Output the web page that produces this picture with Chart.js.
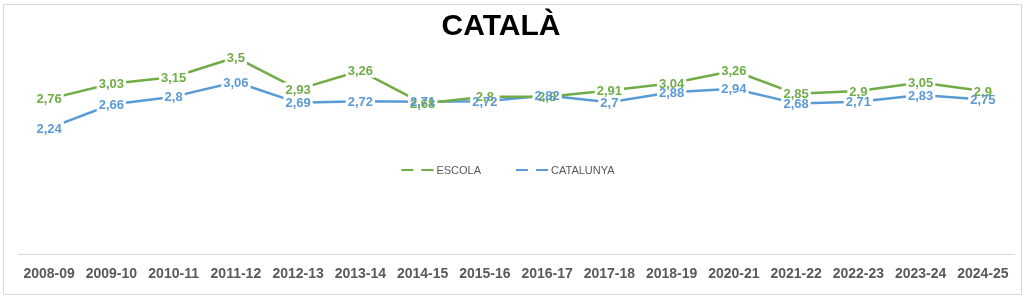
<!DOCTYPE html>
<html lang="ca">
<head>
<meta charset="UTF-8">
<title>Català</title>
<script src="https://cdn.jsdelivr.net/npm/chart.js"></script>
<style>
  html, body { margin: 0; padding: 0; background: #fff; }
  .wrap { position: relative; width: 1024px; height: 298px; }
</style>
</head>
<body>
<div class="wrap"><canvas id="chart"></canvas></div>
<script>
const cursos = ['2008-09', '2009-10', '2010-11', '2011-12', '2012-13', '2013-14', '2014-15', '2015-16',
                '2016-17', '2017-18', '2018-19', '2020-21', '2021-22', '2022-23', '2023-24', '2024-25'];
const escola    = [2.76, 3.03, 3.15, 3.5, 2.93, 3.26, 2.68, 2.8, 2.8, 2.91, 3.04, 3.26, 2.85, 2.9, 3.05, 2.9];
const catalunya = [2.24, 2.66, 2.8, 3.06, 2.69, 2.72, 2.71, 2.72, 2.82, 2.7, 2.88, 2.94, 2.68, 2.71, 2.83, 2.75];
const titol = 'CATALÀ';
const nomsSeries = ['ESCOLA', 'CATALUNYA'];
const colors = ['#70AD47', '#5B9BD5'];

const font = '"Liberation Sans", Arial, sans-serif';

// marc gris, títol i llegenda (la llegenda d'Excel queda dins l'àrea del gràfic)
const decoracio = {
  id: 'decoracio',
  beforeDraw(chart) {
    const ctx = chart.ctx;
    ctx.save();
    ctx.strokeStyle = '#D9D9D9';
    ctx.lineWidth = 1;
    ctx.strokeRect(3.5, 4.5, chart.width - 6, chart.height - 8);
    ctx.restore();
  },
  afterDraw(chart) {
    const ctx = chart.ctx;
    const area = chart.chartArea;
    ctx.save();
    ctx.fillStyle = '#000';
    ctx.font = 'bold 30px ' + font;
    ctx.textAlign = 'center';
    ctx.textBaseline = 'alphabetic';
    ctx.fillText(titol, chart.width / 2 - 11, 35);

    // llegenda
    ctx.font = '11px ' + font;
    ctx.textBaseline = 'middle';
    ctx.textAlign = 'left';
    const liniaW = 33, gapText = 2, gapItems = 35;
    const amples = nomsSeries.map(n => liniaW + gapText + ctx.measureText(n).width);
    const total = amples.reduce((a, b) => a + b, 0) + gapItems * (amples.length - 1);
    let x = (area.left + area.right) / 2 - 8 - total / 2;
    const y = 170;
    nomsSeries.forEach((nom, i) => {
      ctx.strokeStyle = colors[i];
      ctx.lineWidth = 2;
      ctx.setLineDash([12, 8]);
      ctx.beginPath();
      ctx.moveTo(x, y);
      ctx.lineTo(x + liniaW, y);
      ctx.stroke();
      ctx.setLineDash([]);
      ctx.fillStyle = '#595959';
      ctx.fillText(nom, x + liniaW + gapText, y + 0.5);
      x += amples[i] + gapItems;
    });
    ctx.restore();
  }
};

// etiquetes de dades centrades sobre cada punt, amb fons blanc
const etiquetes = {
  id: 'etiquetes',
  afterDatasetsDraw(chart) {
    const ctx = chart.ctx;
    ctx.save();
    ctx.font = 'bold 13px ' + font;
    ctx.textAlign = 'center';
    ctx.textBaseline = 'middle';
    const items = [];
    chart.data.datasets.forEach((ds, i) => {
      chart.getDatasetMeta(i).data.forEach((pt, j) => {
        items.push({ x: pt.x, y: pt.y, text: String(ds.data[j]).replace('.', ','), color: ds.borderColor });
      });
    });
    ctx.fillStyle = '#fff';
    items.forEach(it => {
      const w = ctx.measureText(it.text).width;
      ctx.fillRect(it.x - w / 2 - 2, it.y - 7, w + 4, 14);
    });
    items.forEach(it => {
      ctx.fillStyle = it.color;
      ctx.fillText(it.text, it.x, it.y + 1);
    });
    ctx.restore();
  }
};

new Chart(document.getElementById('chart'), {
  type: 'line',
  data: {
    labels: cursos,
    datasets: [
      { label: nomsSeries[0], data: escola, borderColor: colors[0], backgroundColor: colors[0] },
      { label: nomsSeries[1], data: catalunya, borderColor: colors[1], backgroundColor: colors[1] }
    ]
  },
  options: {
    responsive: true,
    maintainAspectRatio: false,
    animation: false,
    layout: { padding: { left: 18, right: 10, top: 1, bottom: 11 } },
    elements: {
      line: { borderWidth: 2.5, tension: 0, borderCapStyle: 'round', borderJoinStyle: 'round' },
      point: { radius: 0, hoverRadius: 0 }
    },
    plugins: {
      legend: { display: false },
      title: { display: false },
      tooltip: { enabled: false }
    },
    scales: {
      x: {
        offset: true,
        grid: { display: false },
        border: { display: true, color: '#D9D9D9', width: 1 },
        ticks: { color: '#595959', font: { family: font, size: 14, weight: 'bold' }, padding: 4, maxRotation: 0, autoSkip: false }
      },
      y: {
        display: false,
        min: 0,
        max: 4.5
      }
    }
  },
  plugins: [decoracio, etiquetes]
});
</script>
</body>
</html>
